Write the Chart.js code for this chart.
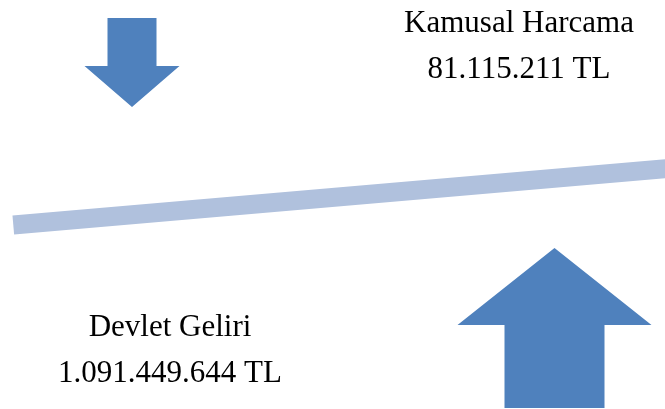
<!DOCTYPE html>
<html>
<head>
<meta charset="utf-8">
<script src="https://cdn.jsdelivr.net/npm/chart.js@4"></script>
<style>
    html, body { margin: 0; padding: 0; background: #fff; }
</style>
</head>
<body>
<canvas id="myChart" width="665" height="409"></canvas>
<script>

// chart values
const items = ['Kamusal Harcama', 'Devlet Geliri'];
const amounts = [81115211, 1091449644];
const directions = ['down', 'up'];

// layout (drawing space = 665 x 409, y grows downward)
const arrowLayout = [
    { cx: 132, tip: 107, end: 18, headLen: 41, headW: 95, shaftW: 49 },
    { cx: 554.5, tip: 248, end: 408, headLen: 77, headW: 194, shaftW: 100 }
];
const textLayout = [
    { x: 519, y: 32 },
    { x: 170, y: 336 }
];
const lineGap = 45.5;
const beamStart = { x: 13.3, y: 225 };
const beamSlope = -0.0862;

const arrowColor = '#4F81BD';
const beamColor = '#B0C1DD';

function formatTL(n) {
    return String(n).replace(/\B(?=(\d{3})+(?!\d))/g, '.') + ' TL';
}

function arrowPoints(a, dir) {
    var s = dir === 'down' ? 1 : -1;
    var hb = a.tip - s * a.headLen;
    return [
        { x: a.cx - a.shaftW / 2, y: a.end },
        { x: a.cx + a.shaftW / 2, y: a.end },
        { x: a.cx + a.shaftW / 2, y: hb },
        { x: a.cx + a.headW / 2, y: hb },
        { x: a.cx, y: a.tip },
        { x: a.cx - a.headW / 2, y: hb },
        { x: a.cx - a.shaftW / 2, y: hb },
        { x: a.cx - a.shaftW / 2, y: a.end }
    ];
}

function initchart() {

    const datasets = [];

    // balance beam
    const beamEndX = 690;
    datasets.push({
        label: 'beam',
        data: [
            { x: beamStart.x, y: beamStart.y },
            { x: beamEndX, y: beamStart.y + beamSlope * (beamEndX - beamStart.x) }
        ],
        showLine: true,
        borderColor: beamColor,
        borderWidth: 19,
        borderCapStyle: 'butt',
        pointRadius: 0,
        fill: false,
        clip: false
    });

    for (var i = 0; i < directions.length; i++) {
        datasets.push({
            label: items[i],
            data: arrowPoints(arrowLayout[i], directions[i]),
            showLine: true,
            borderWidth: 0,
            borderColor: 'rgba(0,0,0,0)',
            backgroundColor: arrowColor,
            pointRadius: 0,
            tension: 0,
            fill: 'shape'
        });
    }

    const textPlugin = {
        id: 'amountText',
        afterDatasetsDraw(chart) {
            const ctx = chart.ctx;
            const x = chart.scales.x;
            const y = chart.scales.y;
            ctx.save();
            ctx.font = '31px "Liberation Serif", "Times New Roman", serif';
            ctx.fillStyle = '#000';
            ctx.textAlign = 'center';
            ctx.textBaseline = 'alphabetic';
            for (var i = 0; i < items.length; i++) {
                var p = textLayout[i];
                ctx.fillText(items[i], x.getPixelForValue(p.x), y.getPixelForValue(p.y));
                ctx.fillText(formatTL(amounts[i]), x.getPixelForValue(p.x), y.getPixelForValue(p.y + lineGap));
            }
            ctx.restore();
        }
    };

    const config = {
        type: 'scatter',
        data: { datasets: datasets },
        options: {
            responsive: false,
            animation: false,
            devicePixelRatio: 1,
            layout: { padding: 0 },
            plugins: {
                legend: { display: false },
                tooltip: { enabled: false }
            },
            scales: {
                x: { type: 'linear', min: 0, max: 665, display: false },
                y: { type: 'linear', min: 0, max: 409, reverse: true, display: false }
            }
        },
        plugins: [textPlugin]
    };

    new Chart(document.getElementById('myChart'), config);
}

initchart();
</script>
</body>
</html>
